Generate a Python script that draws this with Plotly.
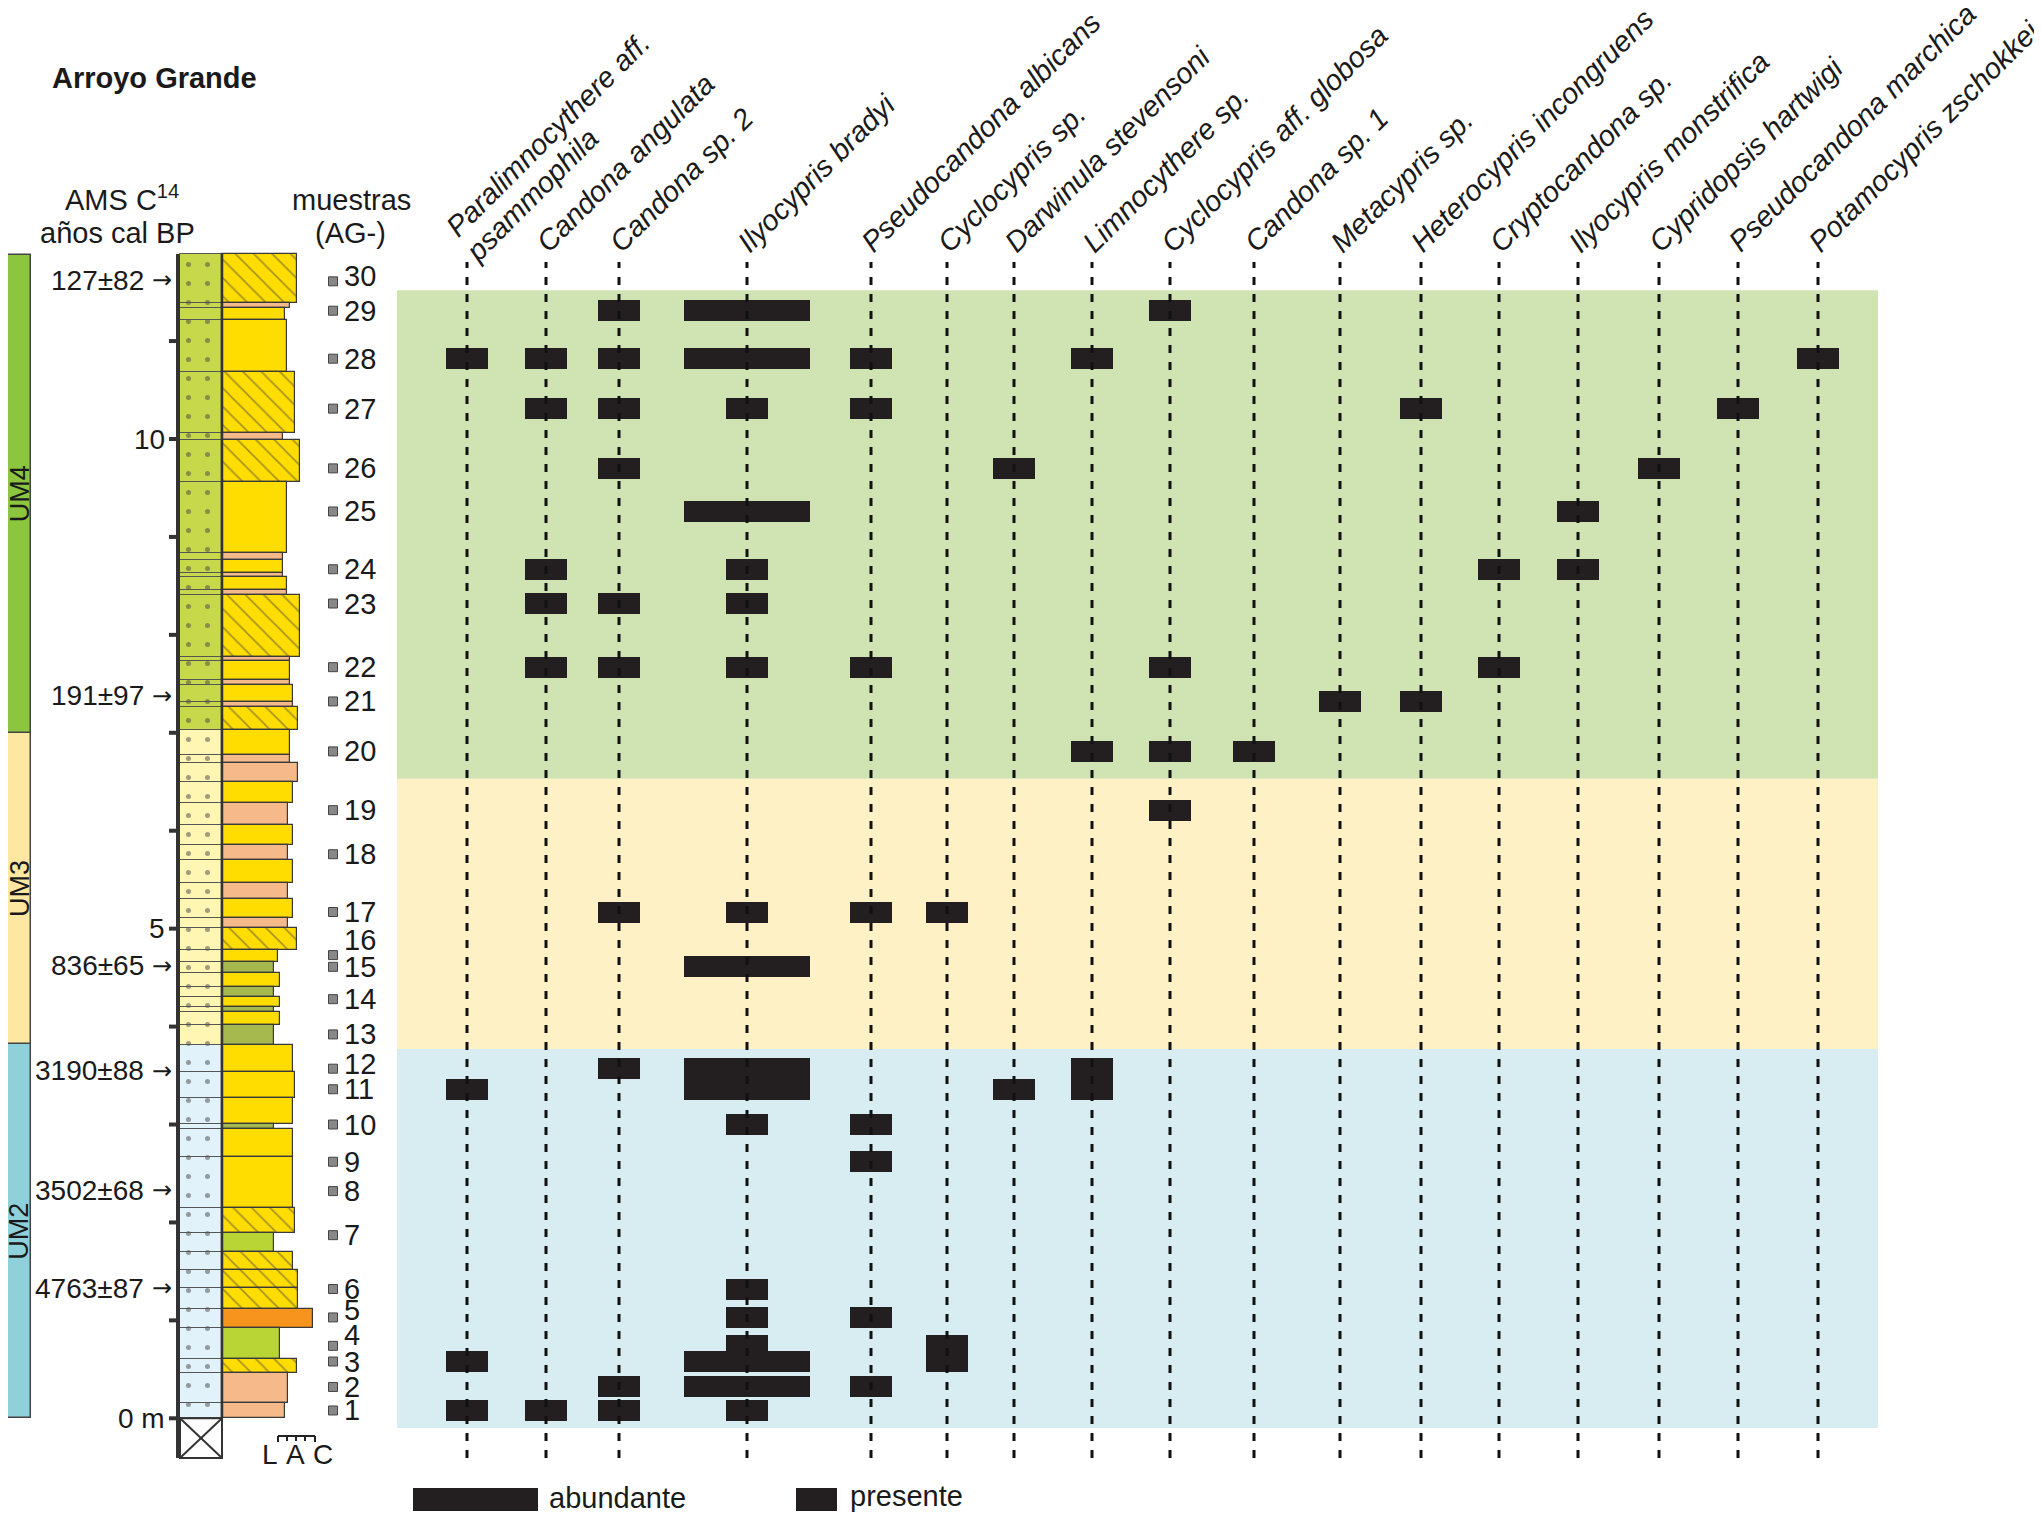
import plotly.graph_objects as go

# ---------------------------------------------------------------- data
species = [
    "Paralimnocythere aff. psammophila", "Candona angulata", "Candona sp. 2",
    "Ilyocypris bradyi", "Pseudocandona albicans", "Cyclocypris sp.",
    "Darwinula stevensoni", "Limnocythere sp.", "Cyclocypris aff. globosa",
    "Candona sp. 1", "Metacypris sp.", "Heterocypris incongruens",
    "Cryptocandona sp.", "Ilyocypris monstrifica", "Cypridopsis hartwigi",
    "Pseudocandona marchica", "Potamocypris zschokkei",
]
# samples (AG-) where each species is "presente"
presente_samples = [
    [1, 3, 11, 28], [1, 22, 23, 24, 27, 28], [1, 2, 12, 17, 22, 23, 26, 27, 28, 29],
    [1, 4, 5, 6, 10, 17, 22, 23, 24, 27], [2, 5, 9, 10, 17, 22, 27, 28], [3, 4, 17],
    [11, 26], [11, 12, 20, 28], [19, 20, 22, 29], [20], [21], [21, 27],
    [22, 24], [24, 25], [26], [27], [28],
]
# samples where each species is "abundante"
abundante_samples = [
    [], [], [], [2, 3, 11, 12, 15, 25, 28, 29], [], [], [], [], [], [], [], [], [], [], [], [], [],
]
samples = list(range(1, 31))
sample_depth_m = [0.08, 0.32, 0.58, 0.74, 1.03, 1.32, 1.87, 2.32, 2.62, 3.00,
                  3.36, 3.57, 3.92, 4.28, 4.61, 4.73, 5.17, 5.76, 6.21, 6.81,
                  7.32, 7.67, 8.32, 8.67, 9.26, 9.70, 10.31, 10.82, 11.31, 11.61]
units = ["UM2", "UM3", "UM4"]
unit_base_m = [0.00, 3.82, 7.00]
unit_top_m = [3.82, 7.00, 11.88]
zone_base_m = [-0.10, 3.77, 6.53]
zone_top_m = [3.77, 6.53, 11.52]
date_labels = ["127±82", "191±97", "836±65", "3190±88", "3502±68", "4763±87"]
date_depth_m = [11.62, 7.38, 4.62, 3.55, 2.33, 1.33]
# stratigraphic beds (top of each bed, from the top down; base of the section = 0 m)
bed_top_m = [11.89, 11.39, 11.34, 11.22, 10.68, 10.06, 9.99, 9.56, 8.84, 8.76,
             8.63, 8.59, 8.46, 8.41, 7.77, 7.73, 7.54, 7.49, 7.31, 7.26,
             7.03, 6.77, 6.69, 6.50, 6.28, 6.06, 5.85, 5.70, 5.47, 5.30,
             5.11, 5.01, 4.78, 4.66, 4.55, 4.40, 4.30, 4.20, 4.15, 4.02,
             3.81, 3.54, 3.27, 3.01, 2.95, 2.67, 2.15, 1.89, 1.70, 1.51,
             1.33, 1.12, 0.92, 0.61, 0.46, 0.16]
section_base_m = 0.0
# grain size on the L(1) - A(2) - C(3) scale
bed_grain = [2.04, 1.78, 1.59, 1.67, 1.96, 1.52, 2.15, 1.67, 1.52, 1.52,
             1.52, 1.67, 1.67, 2.15, 1.78, 1.78, 1.78, 1.89, 1.89, 2.07,
             1.78, 1.78, 2.07, 1.89, 1.70, 1.89, 1.70, 1.89, 1.70, 1.89,
             1.70, 2.04, 1.33, 1.19, 1.41, 1.19, 1.41, 1.19, 1.41, 1.19,
             1.89, 1.96, 1.89, 1.19, 1.89, 1.89, 1.96, 1.19, 1.89, 2.07,
             2.07, 2.63, 1.41, 2.04, 1.70, 1.59]
# lithology code: Y sand, S silty, O mud, L paleosol, R carbonate
bed_litho = ["Y", "S", "Y", "Y", "Y", "S", "Y", "Y", "S", "Y",
             "S", "Y", "S", "Y", "S", "Y", "S", "Y", "S", "Y",
             "Y", "S", "S", "Y", "S", "Y", "S", "Y", "S", "Y",
             "S", "Y", "Y", "O", "Y", "O", "Y", "O", "Y", "O",
             "Y", "Y", "Y", "O", "Y", "Y", "Y", "L", "Y", "Y",
             "Y", "R", "L", "Y", "S", "S"]
bed_crossbedded = [1, 0, 0, 0, 1, 0, 1, 0, 0, 0,
                   0, 0, 0, 1, 0, 0, 0, 0, 0, 1,
                   0, 0, 0, 0, 0, 0, 0, 0, 0, 0,
                   0, 1, 0, 0, 0, 0, 0, 0, 0, 0,
                   0, 0, 0, 0, 0, 0, 1, 0, 1, 1,
                   1, 0, 0, 1, 0, 0]
depth_ticks_m = list(range(0, 12))
depth_tick_labels = ["0 m", "", "", "", "", "5", "", "", "", "", "10", ""]
grain_labels = ["L", "A", "C"]
legend_labels = ["abundante", "presente"]

# ---------------------------------------------------------------- layout helpers
W, H = 2042, 1513
OFF = 8              # page margin of the html body
PXM = 97.93          # pixels per metre
Y0 = 1418.3          # pixel row of 0 m
FONT = "Liberation Sans, Arial, Helvetica, sans-serif"
INK = "#1a1a1a"
BAR = "#231f20"


def m(py):
    return (Y0 - py) / PXM


col_x = [467, 546, 619, 747, 871, 947, 1014, 1092, 1170, 1254, 1340, 1421, 1499, 1578, 1659, 1738, 1818]
bar_h = 21 / PXM
w_pres, w_abun = 42, 126

zone_colors = ["#d7edf2", "#fef1c5", "#cfe4b2"]
unit_colors = ["#8fd1da", "#fee7a1", "#8cc63f"]
unit_col_light = ["#e2f2fa", "#fff6b3", "#c8d84b"]
litho_colors = {"Y": "#ffdd00", "S": "#f6b98a", "O": "#a5b94f", "L": "#b8d435", "R": "#f7941d"}

fig = go.Figure()
shapes = []
ann = []

# background zones
for b, t, c in zip(zone_base_m, zone_top_m, zone_colors):
    shapes.append(dict(type="rect", xref="x", yref="y", x0=397, x1=1878, y0=b, y1=t,
                       fillcolor=c, line=dict(width=0), layer="below"))

# dashed species lines
dx, dy = [], []
for x in col_x:
    dx += [x, x, None]
    dy += [m(1458), m(262), None]
fig.add_trace(go.Scatter(x=dx, y=dy, mode="lines", hoverinfo="skip",
                         line=dict(color="#111111", width=3, dash="8px,9px")))

# occurrence bars
for lst, wid in ((presente_samples, w_pres), (abundante_samples, w_abun)):
    bx, bb, bw = [], [], []
    for i, ss in enumerate(lst):
        for s in ss:
            d = sample_depth_m[samples.index(s)]
            bx.append(col_x[i])
            bb.append(d - bar_h / 2)
            bw.append(wid)
    fig.add_trace(go.Bar(x=bx, y=[bar_h] * len(bx), base=bb, width=bw,
                         marker=dict(color=BAR, line=dict(width=0)), hoverinfo="skip"))

# legend swatches
fig.add_trace(go.Bar(x=[475.5, 816.5], y=[m(1488) - m(1511)] * 2, base=[m(1511)] * 2,
                     width=[125, 41], marker=dict(color=BAR, line=dict(width=0)), hoverinfo="skip"))
ann.append(dict(x=547, y=m(1498), text=legend_labels[0], xanchor="left", yanchor="middle",
                font=dict(size=29)))
ann.append(dict(x=848, y=m(1496), text=legend_labels[1], xanchor="left", yanchor="middle",
                font=dict(size=29)))

# stratigraphic column -------------------------------------------------------
bed_base = bed_top_m[1:] + [section_base_m]
thick = [t - b for t, b in zip(bed_top_m, bed_base)]

# left column (unit colours, sand dots)
left_cols = []
for t, b in zip(bed_top_m, bed_base):
    mid = (t + b) / 2
    k = 0 if mid < unit_base_m[1] else (1 if mid < unit_base_m[2] else 2)
    left_cols.append(unit_col_light[k])
fig.add_trace(go.Bar(x=[201] * len(thick), y=thick, base=bed_base, width=[42] * len(thick),
                     marker=dict(color=left_cols, line=dict(color="#555555", width=1),
                                 pattern=dict(shape=".", fgcolor="#000000", size=19, solidity=0.055)),
                     hoverinfo="skip"))

# right column (grain-size profile)
edges = [269 + (g - 1) * 27 for g in bed_grain]
rw = [e - 222 for e in edges]
rx = [222 + w / 2 for w in rw]
fig.add_trace(go.Bar(x=rx, y=thick, base=bed_base, width=rw,
                     marker=dict(color=[litho_colors[c] for c in bed_litho],
                                 line=dict(color="#3a3a3a", width=1.2),
                                 pattern=dict(shape=["\\" if f else "" for f in bed_crossbedded],
                                              fgcolor="#6a6a4a", size=13, solidity=0.12)),
                     hoverinfo="skip"))

# covered interval box with cross
fig.add_trace(go.Scatter(x=[180, 222, 222, 180, 180, None, 180, 222, None, 180, 222],
                         y=[0, 0, m(1458), m(1458), 0, None, 0, m(1458), None, m(1458), 0],
                         mode="lines", line=dict(color="#333333", width=2), hoverinfo="skip"))
# column divider
fig.add_trace(go.Scatter(x=[222, 222], y=[0, bed_top_m[0]], mode="lines",
                         line=dict(color="#333333", width=2.5), hoverinfo="skip"))
# depth axis and ticks
tx, ty = [178, 178, None], [m(1458), bed_top_m[0], None]
for d in depth_ticks_m:
    tx += [169, 178, None]
    ty += [d, d, None]
fig.add_trace(go.Scatter(x=tx, y=ty, mode="lines", line=dict(color="#333333", width=4),
                         hoverinfo="skip"))
for d, lab in zip(depth_ticks_m, depth_tick_labels):
    if lab:
        ann.append(dict(x=167, y=d, text=lab, xanchor="right", yanchor="middle", font=dict(size=28)))

# grain-size scale
fig.add_trace(go.Scatter(x=[278, 315, None, 278, 278, None, 287, 287, None, 296, 296, None, 305, 305, None, 315, 315],
                         y=[m(1436), m(1436), None, m(1436), m(1442), None, m(1436), m(1441), None,
                            m(1436), m(1441), None, m(1436), m(1441), None, m(1436), m(1442)],
                         mode="lines", line=dict(color="#222222", width=2), hoverinfo="skip"))
for gx, gl in zip([270, 295, 323], grain_labels):
    ann.append(dict(x=gx, y=m(1454), text=gl, xanchor="center", yanchor="middle", font=dict(size=28)))

# unit bars
fig.add_trace(go.Bar(x=[17] * 3, y=[t - b for t, b in zip(unit_top_m, unit_base_m)], base=unit_base_m,
                     width=[28] * 3, marker=dict(color=unit_colors, line=dict(color="#444444", width=1.5)),
                     hoverinfo="skip"))
for u, b, t in zip(units, unit_base_m, unit_top_m):
    ann.append(dict(x=19.5, y=(b + t) / 2, text=u, textangle=-90, xanchor="center", yanchor="middle",
                    borderpad=0, font=dict(size=27)))

# sample squares and numbers
fig.add_trace(go.Scatter(x=[333] * len(samples), y=sample_depth_m, mode="markers", hoverinfo="skip",
                         marker=dict(symbol="square", size=9, color="#888888",
                                     line=dict(color="#444444", width=1))))
label_shift = {30: 5, 12: 5, 16: 15, 5: 7, 4: 11}
for s, d in zip(samples, sample_depth_m):
    ann.append(dict(x=343, y=d, text=str(s), xanchor="left", yanchor="middle", borderpad=0,
                    yshift=label_shift.get(s, 0), font=dict(size=29)))

# radiocarbon dates
for lab, d in zip(date_labels, date_depth_m):
    ann.append(dict(x=146, y=d, text=lab, xanchor="right", yanchor="middle", font=dict(size=28)))
    ann.append(dict(x=162, y=d, text="→", xanchor="center", yanchor="middle",
                    font=dict(size=24, family="DejaVu Sans")))

# headers
ann.append(dict(x=50, y=m(78), text="<b>Arroyo Grande</b>", xanchor="left", yanchor="middle",
                font=dict(size=29)))
ann.append(dict(x=122, y=m(198), text="AMS C<sup>14</sup>", xanchor="center", yanchor="middle",
                font=dict(size=29)))
ann.append(dict(x=117, y=m(233), text="años cal BP", xanchor="center", yanchor="middle",
                font=dict(size=29)))
ann.append(dict(x=351, y=m(200), text="muestras", xanchor="center", yanchor="middle",
                font=dict(size=29)))
ann.append(dict(x=350, y=m(233), text="(AG-)", xanchor="center", yanchor="middle",
                font=dict(size=29)))

# species labels (rotated 45 degrees, anchored at the baseline start)
FS = 29
HB = 1.15 * FS


def sp_label(text, bx, by):
    bx += 8
    by += 8
    ann.append(dict(x=bx + 4.5 - 0.707 * HB, y=m(by + 4.5), text="<i>" + text + "</i>",
                    textangle=-45, xanchor="left", yanchor="bottom", borderpad=0,
                    font=dict(size=FS)))


for i, name in enumerate(species):
    if " aff. psammophila" in name:
        first, second = name.split(" psammophila")[0], "psammophila"
        sp_label(first, 449, 232)
        sp_label(second, 469, 256)
    else:
        sp_label(name, col_x[i] - 6, 247)

for a in ann:
    a.setdefault("xref", "x")
    a.setdefault("yref", "y")
    a["showarrow"] = False
    f = dict(family=FONT, color=INK)
    f.update(a.get("font", {}))
    a["font"] = f

fig.update_layout(
    width=W - OFF, height=H - OFF, margin=dict(l=0, r=0, t=0, b=0, pad=0),
    paper_bgcolor="white", plot_bgcolor="white", showlegend=False,
    barmode="overlay", bargap=0,
    xaxis=dict(range=[OFF, W], visible=False, fixedrange=True),
    yaxis=dict(range=[m(H), m(OFF)], visible=False, fixedrange=True),
    shapes=shapes, annotations=ann,
    font=dict(family=FONT, color=INK),
)

fig.write_html("out.html")
